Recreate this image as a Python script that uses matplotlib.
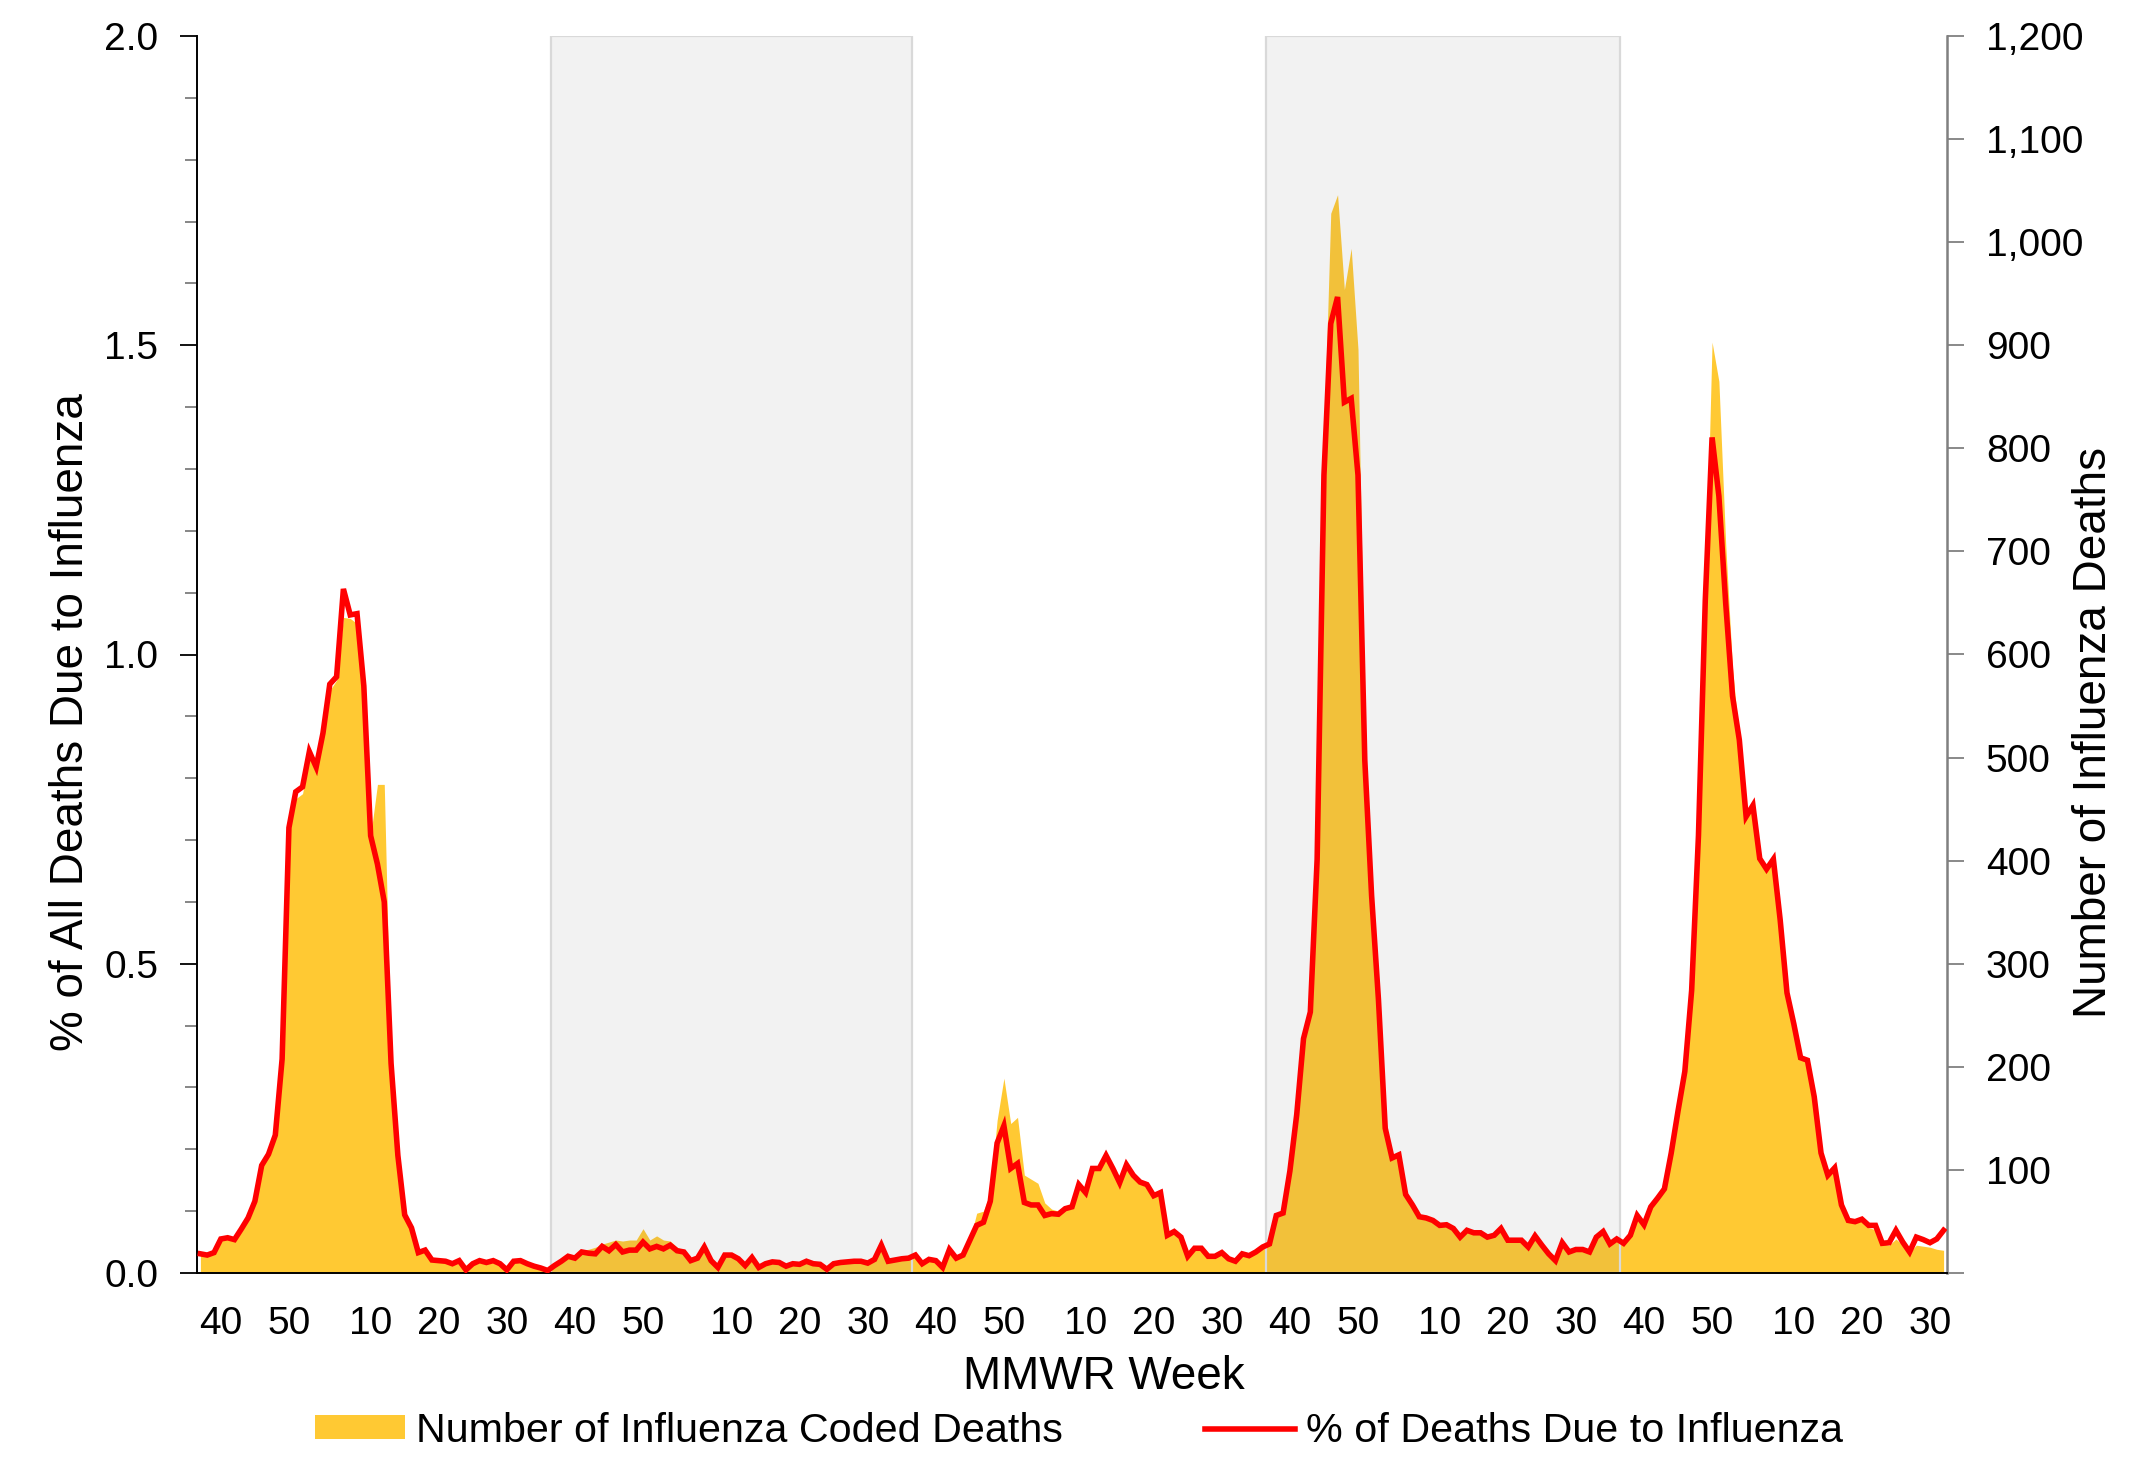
import matplotlib
matplotlib.use("Agg")
import matplotlib.pyplot as plt
from matplotlib.lines import Line2D
from matplotlib.patches import Patch
from matplotlib.ticker import MultipleLocator, FuncFormatter

plt.rcParams['font.family'] = ['Liberation Sans', 'DejaVu Sans']

# Seasons run from MMWR week 37 to week 36 of the next year (last one is partial).
season_year_weeks = [52, 53, 52, 52, 52]
season_first_week = 37
last_week = 32
shaded_seasons = [1, 3]

# % of all deaths due to influenza (left axis)
pct_deaths = [
    # 2019-20
    0.031, 0.029, 0.033, 0.055, 0.057, 0.054, 0.071, 0.089, 0.116, 0.174,
    0.192, 0.223, 0.346, 0.720, 0.778, 0.786, 0.843, 0.818, 0.873, 0.952,
    0.964, 1.106, 1.064, 1.066, 0.949, 0.707, 0.661, 0.600, 0.339, 0.190,
    0.094, 0.073, 0.033, 0.037, 0.021, 0.020, 0.019, 0.015, 0.020, 0.005,
    0.015, 0.020, 0.017, 0.020, 0.015, 0.005, 0.019, 0.020, 0.015, 0.011,
    0.008, 0.004,
    # 2020-21
    0.012, 0.019, 0.027, 0.024, 0.034, 0.032, 0.031, 0.043, 0.036, 0.046,
    0.034, 0.037, 0.037, 0.050, 0.039, 0.043, 0.039, 0.045, 0.036, 0.034,
    0.020, 0.024, 0.042, 0.020, 0.009, 0.029, 0.029, 0.023, 0.012, 0.025,
    0.009, 0.015, 0.018, 0.017, 0.011, 0.015, 0.014, 0.019, 0.015, 0.014,
    0.006, 0.015, 0.017, 0.018, 0.019, 0.019, 0.016, 0.022, 0.045, 0.019,
    0.021, 0.023, 0.024,
    # 2021-22
    0.029, 0.015, 0.022, 0.020, 0.009, 0.038, 0.024, 0.029, 0.053, 0.077,
    0.082, 0.116, 0.210, 0.238, 0.169, 0.177, 0.114, 0.110, 0.110, 0.093,
    0.096, 0.095, 0.104, 0.107, 0.143, 0.130, 0.169, 0.169, 0.190, 0.169,
    0.146, 0.175, 0.158, 0.147, 0.143, 0.125, 0.130, 0.061, 0.067, 0.058,
    0.027, 0.040, 0.040, 0.027, 0.027, 0.033, 0.023, 0.019, 0.031, 0.028,
    0.034, 0.042,
    # 2022-23
    0.047, 0.093, 0.097, 0.165, 0.256, 0.379, 0.422, 0.669, 1.290, 1.535,
    1.578, 1.408, 1.414, 1.290, 0.829, 0.610, 0.443, 0.234, 0.186, 0.191,
    0.127, 0.110, 0.091, 0.089, 0.085, 0.077, 0.078, 0.072, 0.058, 0.069,
    0.065, 0.065, 0.058, 0.061, 0.072, 0.053, 0.053, 0.053, 0.042, 0.060,
    0.045, 0.031, 0.020, 0.049, 0.034, 0.038, 0.038, 0.034, 0.058, 0.067,
    0.047, 0.055,
    # 2023-24
    0.048, 0.061, 0.093, 0.078, 0.107, 0.121, 0.136, 0.194, 0.262, 0.326,
    0.457, 0.707, 1.087, 1.351, 1.256, 1.083, 0.933, 0.862, 0.738, 0.756,
    0.670, 0.653, 0.669, 0.571, 0.453, 0.403, 0.348, 0.344, 0.285, 0.194,
    0.158, 0.170, 0.110, 0.085, 0.083, 0.087, 0.077, 0.077, 0.048, 0.049,
    0.069, 0.050, 0.034, 0.058, 0.054, 0.049, 0.055, 0.069,
]

# number of influenza coded deaths (right axis)
flu_deaths = [
    # 2019-20
    19, 17, 20, 33, 34, 32, 43, 53, 70, 104,
    115, 134, 208, 425, 460, 465, 500, 485, 520, 565,
    575, 636, 635, 630, 570, 424, 474, 474, 203, 114,
    56, 44, 20, 22, 13, 12, 11, 9, 12, 3,
    9, 12, 10, 12, 9, 3, 11, 12, 9, 7,
    5, 2,
    # 2020-21
    7, 11, 16, 14, 22, 23, 25, 28, 30, 32,
    31, 32, 32, 43, 32, 36, 32, 31, 25, 22,
    13, 15, 25, 12, 6, 17, 17, 14, 7, 15,
    6, 9, 11, 10, 7, 9, 8, 11, 9, 8,
    4, 9, 10, 11, 11, 11, 10, 13, 25, 11,
    13, 14, 14,
    # 2021-22
    17, 9, 13, 12, 5, 23, 14, 17, 32, 58,
    60, 78, 148, 189, 145, 151, 95, 91, 87, 68,
    62, 60, 63, 65, 86, 78, 101, 101, 114, 101,
    88, 105, 95, 88, 86, 75, 78, 37, 40, 35,
    16, 24, 24, 16, 16, 20, 14, 11, 19, 17,
    20, 25,
    # 2022-23
    28, 56, 58, 99, 154, 227, 253, 401, 810, 1028,
    1046, 954, 994, 896, 530, 375, 266, 140, 112, 115,
    76, 66, 55, 53, 51, 46, 47, 43, 35, 41,
    39, 39, 35, 37, 43, 32, 32, 32, 25, 36,
    27, 19, 12, 29, 20, 23, 23, 20, 35, 40,
    28, 33,
    # 2023-24
    29, 37, 56, 47, 64, 73, 82, 116, 157, 196,
    274, 424, 652, 903, 865, 707, 587, 517, 445, 455,
    402, 392, 401, 343, 272, 242, 209, 206, 171, 116,
    95, 102, 66, 51, 50, 50, 44, 42, 28, 27,
    33, 27, 20, 27, 26, 25, 23, 22,
]

# Build the MMWR week number for every point and the season start indices.
weeks = []
season_starts = []
for i, n in enumerate(season_year_weeks):
    season_starts.append(len(weeks))
    end = last_week if i == len(season_year_weeks) - 1 else season_first_week - 1
    weeks += list(range(season_first_week, n + 1)) + list(range(1, end + 1))
season_starts.append(len(weeks))
x = list(range(len(weeks)))

tick_pos = [i for i, w in enumerate(weeks) if w % 10 == 0]
tick_lab = [str(weeks[i]) for i in tick_pos]

fig = plt.figure(figsize=(21.45, 14.63), dpi=100)
ax = fig.add_axes([197 / 2145, 1 - 1273 / 1463, (1947 - 197) / 2145, (1273 - 36) / 1463])
ax2 = ax.twinx()

# area of counts on the right axis, season shading over it, % line on top
ax2.fill_between(x, flu_deaths, color='#FFC933', lw=0, zorder=1)
for s in shaded_seasons:
    ax2.axvspan(season_starts[s] - 0.5, season_starts[s + 1] - 0.5,
                facecolor=(0.5, 0.5, 0.5, 0.1), edgecolor='#d9d9d9', lw=1.6, zorder=2)
ax.plot(x, pct_deaths, color='#FF0000', lw=4, zorder=3, solid_joinstyle='miter')

ax.set_zorder(ax2.get_zorder() + 1)
ax.patch.set_visible(False)

ax.set_xlim(-0.5, len(x) - 0.5)
ax.set_ylim(0, 2.0)
ax2.set_ylim(0, 1200)

# left axis
ax.set_yticks([0, 0.5, 1.0, 1.5, 2.0])
ax.yaxis.set_major_formatter(FuncFormatter(lambda v, p: f'{v:.1f}'))
ax.yaxis.set_minor_locator(MultipleLocator(0.1))
ax.tick_params(axis='y', which='major', length=12, width=1.3, color='black',
               labelsize=28, pad=16)
ax.tick_params(axis='y', which='minor', length=9, width=1.1, color='#666666')
ax.set_xticks(tick_pos)
ax.set_xticklabels(tick_lab)
ax.tick_params(axis='x', length=0, labelsize=28, pad=24)

# right axis
ax2.set_yticks(range(0, 1201, 100))
ax2.yaxis.set_major_formatter(FuncFormatter(lambda v, p: '' if v == 0 else f'{int(v):,}'))
ax2.tick_params(axis='y', length=12, width=1.3, color='#808080', labelsize=28, pad=16)

for side in ['top', 'right']:
    ax.spines[side].set_visible(False)
for side in ['top', 'left', 'bottom']:
    ax2.spines[side].set_visible(False)
ax.spines['left'].set_linewidth(1.4)
ax.spines['bottom'].set_linewidth(1.4)
ax2.spines['right'].set_color('#808080')
ax2.spines['right'].set_linewidth(1.8)

ax.set_ylabel('% of All Deaths Due to Influenza', fontsize=33, va='center')
ax.yaxis.set_label_coords(-0.072, 0.445)
ax2.set_ylabel('Number of Influenza Deaths', fontsize=33, va='center', rotation=90)
ax2.yaxis.set_label_coords(1.084, 0.437)
ax.set_xlabel('MMWR Week', fontsize=33, va='center')
ax.xaxis.set_label_coords(0.518, -0.084)

handles = [Patch(facecolor='#FFC933', edgecolor='none'),
           Line2D([0], [0], color='#FF0000', lw=4)]
labels = ['Number of Influenza Coded Deaths', '% of Deaths Due to Influenza']
fig.legend(handles, labels, loc='center', bbox_to_anchor=(0.503, 0.022),
           ncol=2, frameon=False, fontsize=29.7, handlelength=2.18, handleheight=0.5,
           handletextpad=0.27, columnspacing=3.45)

fig.savefig('out.png', dpi=100)
